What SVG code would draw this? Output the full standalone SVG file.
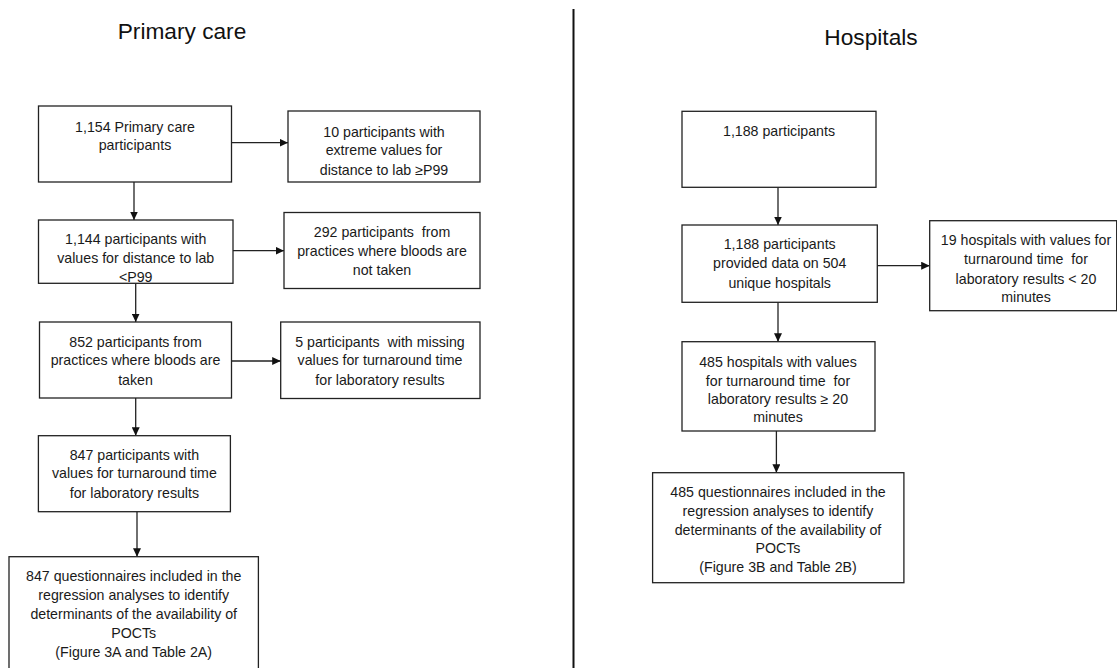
<svg xmlns="http://www.w3.org/2000/svg" width="1117" height="668" viewBox="0 0 1117 668">
<style>
  .box{fill:#fff;stroke:#222;stroke-width:1.3}
  .t{font-family:"Liberation Sans",Arial,sans-serif;font-size:14.2px;fill:#1a1a1a;text-anchor:middle;white-space:pre}
  .title{font-family:"Liberation Sans",Arial,sans-serif;font-size:22.7px;fill:#111;text-anchor:middle}
  .c{stroke:#222;stroke-width:1.3;fill:none;marker-end:url(#ah)}
</style>
<defs>
  <marker id="ah" markerUnits="userSpaceOnUse" markerWidth="9" markerHeight="8" refX="8.5" refY="4" orient="auto">
    <path d="M0,0 L8.5,4 L0,8 z" fill="#111"/>
  </marker>
</defs>
<rect width="1117" height="668" fill="#fff"/>
<text class="title" x="182" y="38.5">Primary care</text>
<text class="title" x="871" y="45">Hospitals</text>
<line x1="573.5" y1="9" x2="573.5" y2="668" stroke="#111" stroke-width="2"/>

<g id="connectors">
  <line class="c" x1="231.5" y1="142.7" x2="288" y2="142.7"/>
  <line class="c" x1="134" y1="182" x2="134" y2="220"/>
  <line class="c" x1="233" y1="250.7" x2="284" y2="250.7"/>
  <line class="c" x1="135.7" y1="283.3" x2="135.7" y2="322"/>
  <line class="c" x1="231.5" y1="361" x2="280.7" y2="361"/>
  <line class="c" x1="135.7" y1="398" x2="135.7" y2="435.7"/>
  <line class="c" x1="137" y1="511.7" x2="137" y2="556.7"/>
  <line class="c" x1="778" y1="187.3" x2="778" y2="225"/>
  <line class="c" x1="877.3" y1="265.7" x2="929.7" y2="265.7"/>
  <line class="c" x1="778" y1="302.3" x2="778" y2="341.7"/>
  <line class="c" x1="776.4" y1="431" x2="776.4" y2="472.7"/>
</g>

<g id="b1">
  <rect class="box" x="38.5" y="106" width="193" height="76"/>
  <text class="t" x="135" y="131.5">1,154 Primary care</text>
  <text class="t" x="135" y="150">participants</text>
</g>
<g id="b2">
  <rect class="box" x="288" y="111" width="192" height="71"/>
  <text class="t" x="384" y="136.5">10 participants with</text>
  <text class="t" x="384" y="155">extreme values for</text>
  <text class="t" x="384" y="174.5">distance to lab ≥P99</text>
</g>
<g id="b3">
  <rect class="box" x="38.5" y="220" width="194.5" height="63.3"/>
  <text class="t" x="135.7" y="244">1,144 participants with</text>
  <text class="t" x="135.7" y="262.5">values for distance to lab</text>
  <text class="t" x="135.7" y="281.5">&lt;P99</text>
</g>
<g id="b4">
  <rect class="box" x="284" y="212.5" width="196" height="76"/>
  <text class="t" x="382" y="237">292 participants  from</text>
  <text class="t" x="382" y="255.5">practices where bloods are</text>
  <text class="t" x="382" y="275">not taken</text>
</g>
<g id="b5">
  <rect class="box" x="39.5" y="322" width="192" height="76"/>
  <text class="t" x="135.5" y="346.7">852 participants from</text>
  <text class="t" x="135.5" y="364.5">practices where bloods are</text>
  <text class="t" x="135.5" y="384.5">taken</text>
</g>
<g id="b6">
  <rect class="box" x="280.7" y="322" width="199.3" height="76.5"/>
  <text class="t" x="380" y="346.7">5 participants  with missing</text>
  <text class="t" x="380" y="364.5">values for turnaround time</text>
  <text class="t" x="380" y="385">for laboratory results</text>
</g>
<g id="b7">
  <rect class="box" x="38.4" y="435.7" width="192" height="76"/>
  <text class="t" x="134.4" y="460.3">847 participants with</text>
  <text class="t" x="134.4" y="478.3">values for turnaround time</text>
  <text class="t" x="134.4" y="498.3">for laboratory results</text>
</g>
<g id="b8">
  <rect class="box" x="9" y="556.7" width="249.4" height="130"/>
  <text class="t" x="133.7" y="581">847 questionnaires included in the</text>
  <text class="t" x="133.7" y="600">regression analyses to identify</text>
  <text class="t" x="133.7" y="619">determinants of the availability of</text>
  <text class="t" x="133.7" y="638">POCTs</text>
  <text class="t" x="133.7" y="656.5">(Figure 3A and Table 2A)</text>
</g>

<g id="h1">
  <rect class="box" x="682" y="111.3" width="194" height="76"/>
  <text class="t" x="779" y="136">1,188 participants</text>
</g>
<g id="h2">
  <rect class="box" x="682" y="225" width="195.3" height="77.3"/>
  <text class="t" x="779.7" y="249.3">1,188 participants</text>
  <text class="t" x="779.7" y="268.3">provided data on 504</text>
  <text class="t" x="779.7" y="288.3">unique hospitals</text>
</g>
<g id="h3">
  <rect class="box" x="929.7" y="220.7" width="187" height="90"/>
  <text class="t" x="1026" y="245">19 hospitals with values for</text>
  <text class="t" x="1026" y="264.3">turnaround time  for</text>
  <text class="t" x="1026" y="283.5">laboratory results &lt; 20</text>
  <text class="t" x="1026" y="302">minutes</text>
</g>
<g id="h4">
  <rect class="box" x="682" y="341.7" width="193" height="89.3"/>
  <text class="t" x="778" y="366.7">485 hospitals with values</text>
  <text class="t" x="778" y="385.7">for turnaround time  for</text>
  <text class="t" x="778" y="404.3">laboratory results ≥ 20</text>
  <text class="t" x="778" y="422.3">minutes</text>
</g>
<g id="h5">
  <rect class="box" x="652.6" y="472.7" width="251.3" height="110"/>
  <text class="t" x="778" y="497.3">485 questionnaires included in the</text>
  <text class="t" x="778" y="515.7">regression analyses to identify</text>
  <text class="t" x="778" y="535">determinants of the availability of</text>
  <text class="t" x="778" y="553.3">POCTs</text>
  <text class="t" x="778" y="572.3">(Figure 3B and Table 2B)</text>
</g>
</svg>
